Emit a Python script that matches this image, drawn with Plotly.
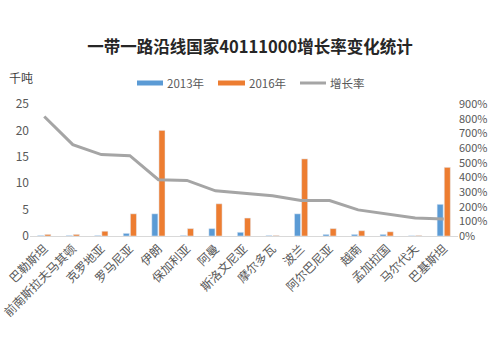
import plotly.graph_objects as go

categories = ["巴勒斯坦", "前南斯拉夫马其顿", "克罗地亚", "罗马尼亚", "伊朗", "保加利亚", "阿曼",
              "斯洛文尼亚", "摩尔多瓦", "波兰", "阿尔巴尼亚", "越南", "孟加拉国", "马尔代夫", "巴基斯坦"]
v2013 = [0.1, 0.1, 0.1, 0.5, 4.2, 0.1, 1.4, 0.7, 0.1, 4.2, 0.3, 0.3, 0.3, 0.05, 6.0]
v2016 = [0.3, 0.3, 0.9, 4.2, 20.0, 1.4, 6.1, 3.4, 0.1, 14.6, 1.4, 1.0, 0.8, 0.1, 13.0]
growth = [8.15, 6.23, 5.55, 5.48, 3.84, 3.79, 3.08, 2.93, 2.74, 2.42, 2.42, 1.78, 1.51, 1.23, 1.16]
series_names = ["2013年", "2016年", "增长率"]
colors = ["#5B9BD5", "#ED7D31", "#A5A5A5"]

W, H = 500, 362
L, R, T, B = 30, 42, 104, 126
pw, ph = W - L - R, H - T - B


def px(x):
    return (x - L) / pw


def py(y):
    return (H - B - y) / ph


font_cjk = "Noto Sans CJK SC"
fig = go.Figure()
fig.add_trace(go.Bar(x=categories, y=v2013, name=series_names[0], marker_color=colors[0]))
fig.add_trace(go.Bar(x=categories, y=v2016, name=series_names[1], marker_color=colors[1]))
fig.add_trace(go.Scatter(x=categories, y=growth, name=series_names[2], yaxis="y2", mode="lines",
                         line=dict(color=colors[2], width=3)))

shapes = [
    dict(type="rect", xref="paper", yref="paper", x0=px(137), x1=px(163), y0=py(85.5), y1=py(80.5),
         fillcolor=colors[0], line=dict(width=0)),
    dict(type="rect", xref="paper", yref="paper", x0=px(218), x1=px(245), y0=py(85.5), y1=py(80.5),
         fillcolor=colors[1], line=dict(width=0)),
    dict(type="line", xref="paper", yref="paper", x0=px(300), x1=px(326), y0=py(83), y1=py(83),
         line=dict(color=colors[2], width=3)),
]
ann = [
    dict(text="千吨", x=px(7), y=py(77)),
    dict(text=series_names[0], x=px(165), y=py(83)),
    dict(text=series_names[1], x=px(247), y=py(83)),
    dict(text=series_names[2], x=px(328), y=py(83)),
]
annotations = []
for i, a in enumerate(ann):
    annotations.append(dict(text=a["text"], x=a["x"], y=a["y"], xref="paper", yref="paper",
                            showarrow=False, xanchor="left", yanchor="middle",
                            font=dict(size=12 if i == 0 else 11.5, color="#404040" if i == 0 else "#595959")))

fig.update_layout(
    width=W, height=H,
    margin=dict(l=L, r=R, t=T, b=B, autoexpand=False),
    paper_bgcolor="white", plot_bgcolor="white",
    font=dict(family=font_cjk, color="#595959", size=11),
    title=dict(text="<b>一带一路沿线国家40111000增长率变化统计</b>", x=0.5, xanchor="center",
               y=1 - 47 / 362, yanchor="middle", font=dict(size=16.5, color="#262626", family=font_cjk)),
    barmode="group", bargap=0.5, bargroupgap=0.15,
    showlegend=False,
    shapes=shapes,
    annotations=annotations,
    xaxis=dict(showline=True, linecolor="#D9D9D9", linewidth=1, tickangle=-45, showgrid=False,
               ticks="", automargin=False, tickfont=dict(size=12, color="#595959", family=font_cjk)),
    yaxis=dict(range=[0, 25], dtick=5, showgrid=False, zeroline=False, ticks="", automargin=False,
               tickfont=dict(size=12, color="#595959")),
    yaxis2=dict(range=[0, 9], dtick=1, overlaying="y", side="right", tickformat=".0%", automargin=False,
                showgrid=False, zeroline=False, ticks="", tickfont=dict(size=11, color="#595959")),
)
fig.write_html("out.html", config={"displayModeBar": False},
               post_script="document.body.style.margin='0';")
